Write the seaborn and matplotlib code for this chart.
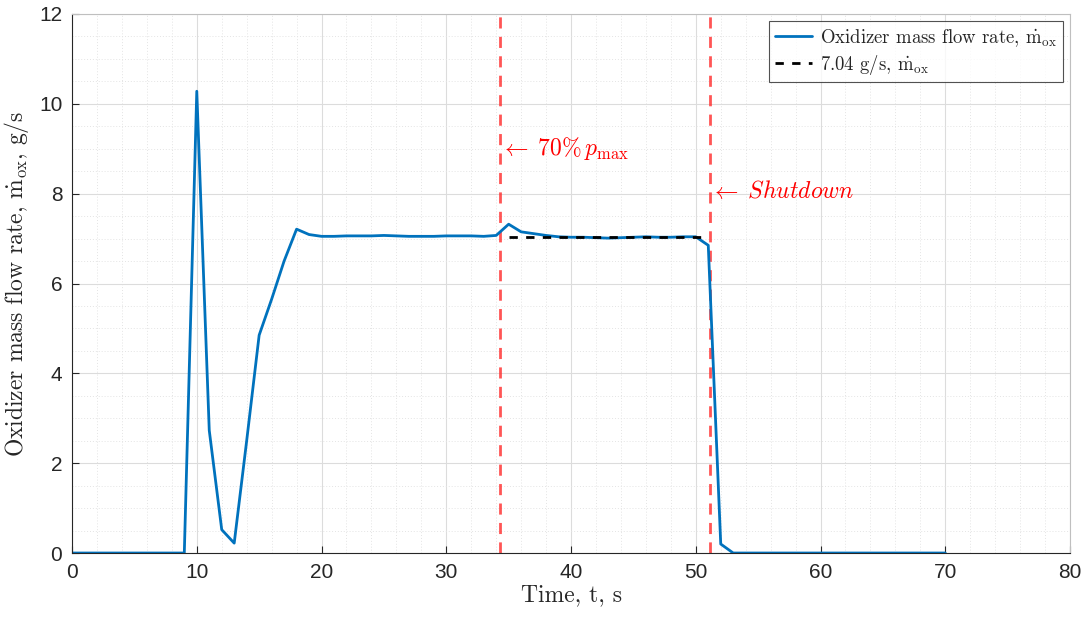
import numpy as np
import pandas as pd
import matplotlib
matplotlib.use("Agg")
import matplotlib.pyplot as plt
import seaborn as sns
from matplotlib.ticker import MultipleLocator

# measured oxidizer mass flow rate, one sample per second
time_s = list(range(0, 71))
mdot_ox = ([0.0] * 10 +
           [10.28, 2.73, 0.52, 0.22, 2.5, 4.85, 5.65, 6.5, 7.21, 7.09, 7.05,
            7.05, 7.06, 7.06, 7.06, 7.07, 7.06, 7.05, 7.05, 7.05, 7.06, 7.06, 7.06, 7.05,
            7.07, 7.32, 7.15, 7.11, 7.07, 7.04, 7.03, 7.03, 7.02, 7.01, 7.02, 7.03,
            7.04, 7.03, 7.03, 7.04, 7.04, 6.85, 0.2] +
           [0.0] * 18)

avg_t = [35, 51]
avg_val = [7.04, 7.04]

t_70pct = 34.3
t_shutdown = 51.15

df = pd.DataFrame({"t": time_s, "mdot": mdot_ox})

sns.set_style("white")
plt.rcParams["font.family"] = ["Liberation Sans", "DejaVu Sans"]
plt.rcParams["mathtext.fontset"] = "cm"
cm_font = ["cmr10", "DejaVu Serif"]

fig = plt.figure(figsize=(10.88, 6.19), dpi=100)
ax = fig.add_axes([0.0662, 0.1066, 0.9173, 0.8708])

sns.lineplot(data=df, x="t", y="mdot", ax=ax, color="#0072BD", linewidth=2.0,
             label=r"Oxidizer mass flow rate, $\dot{\mathrm{m}}_{\mathrm{ox}}$")
sns.lineplot(x=avg_t, y=avg_val, ax=ax, color="black", linewidth=2.0,
             linestyle=(0, (3, 3)),
             label=r"7.04 g/s, $\dot{\mathrm{m}}_{\mathrm{ox}}$")

for xv in (t_70pct, t_shutdown):
    ax.axvline(xv, color="#ff2a2a", alpha=0.8, linewidth=2.0, linestyle=(0, (4, 3)), zorder=1)

ax.text(t_70pct, 9.0, r"$\leftarrow\;70\%\, p_{\max}$", color="red", fontsize=17,
        va="center", ha="left")
ax.text(t_shutdown, 8.05, r"$\leftarrow\;\mathit{Shutdown}$", color="red", fontsize=17,
        va="center", ha="left")

ax.set_xlim(0, 80)
ax.set_ylim(0, 12)
ax.xaxis.set_major_locator(MultipleLocator(10))
ax.yaxis.set_major_locator(MultipleLocator(2))
ax.xaxis.set_minor_locator(MultipleLocator(2))
ax.yaxis.set_minor_locator(MultipleLocator(0.5))
ax.grid(which="major", color="#dcdcdc", linewidth=0.8)
ax.grid(which="minor", color="#e4e4e4", linewidth=0.7, linestyle=(0, (1, 2)))
ax.set_axisbelow(True)

ax.tick_params(which="major", direction="in", length=5, width=0.8, colors="#262626",
               labelsize=15, top=False, right=False, bottom=True, left=True, pad=7)
ax.tick_params(which="minor", length=0)
for s in ax.spines.values():
    s.set_color("#262626")
    s.set_linewidth(0.8)
for s in ("top", "right"):
    ax.spines[s].set_color("#bfbfbf")

ax.set_xlabel("Time, t, s", fontsize=17, labelpad=2, family=cm_font)
ax.set_ylabel(r"Oxidizer mass flow rate, $\dot{\mathrm{m}}_{\mathrm{ox}}$, g/s",
              fontsize=17, labelpad=6, family=cm_font)

leg = ax.legend(loc="upper right", frameon=True, fancybox=False,
                handlelength=2.0, borderpad=0.3, labelspacing=0.2, handletextpad=0.4,
                borderaxespad=0.4, prop={"family": cm_font, "size": 13.5})
leg.get_frame().set_edgecolor("#262626")
leg.get_frame().set_linewidth(0.8)

fig.savefig("out.png", dpi=100)
